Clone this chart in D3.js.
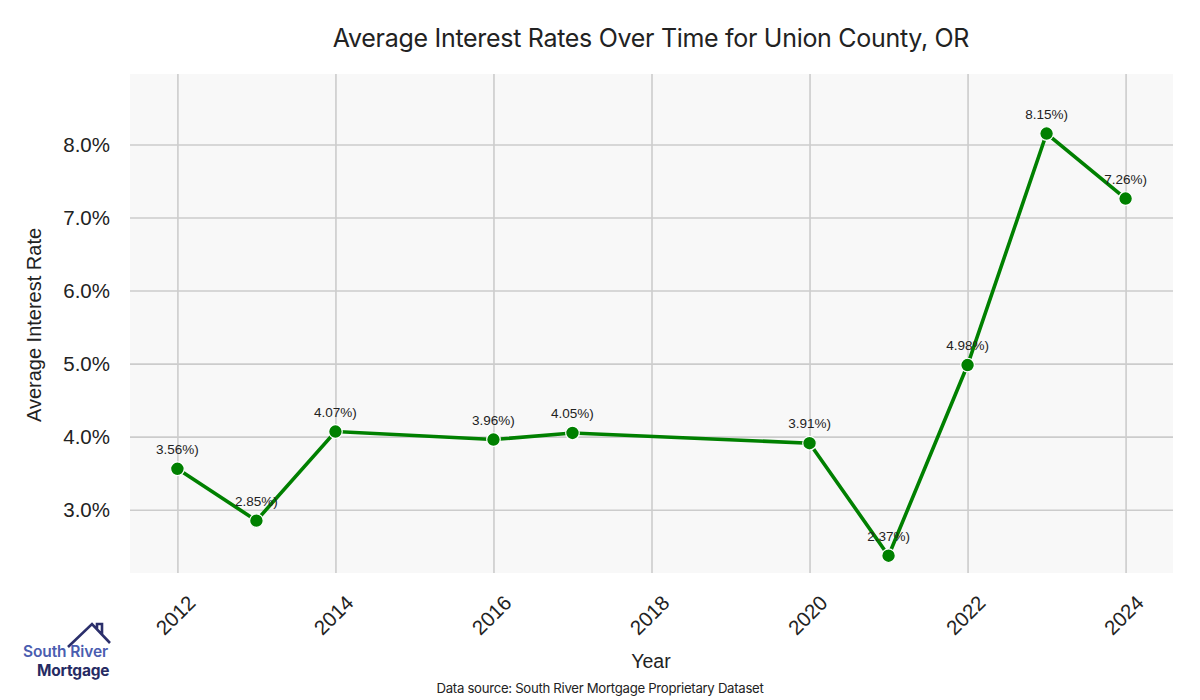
<!DOCTYPE html>
<html><head><meta charset="utf-8">
<script src="https://cdn.jsdelivr.net/npm/d3@7"></script>
<style>body{margin:0;background:#fff}</style>
</head><body>
<svg id="c" width="1200" height="700"></svg>
<script>
const years = [2012, 2013, 2014, 2016, 2017, 2020, 2021, 2022, 2023, 2024];
const rates = [3.56, 2.85, 4.07, 3.96, 4.05, 3.91, 2.37, 4.98, 8.15, 7.26];
const xTicks = [2012, 2014, 2016, 2018, 2020, 2022, 2024];
const yTicks = [3, 4, 5, 6, 7, 8];
const title = "Average Interest Rates Over Time for Union County, OR";

const svg = d3.select("#c");
const L = 130, R = 1173, T = 74, B = 573;
const x = d3.scaleLinear().domain([2011.4, 2024.6]).range([L, R]);
const y = d3.scaleLinear().domain([d3.min(rates) * 0.9, d3.max(rates) * 1.1]).range([B, T]);

svg.append("rect").attr("x", L).attr("y", T).attr("width", R - L).attr("height", B - T).attr("fill", "#f8f8f8");

// grid
const gx = svg.append("g").attr("transform", `translate(0,${B})`)
  .call(d3.axisBottom(x).tickValues(xTicks).tickSize(-(B - T)).tickFormat(""));
const gy = svg.append("g").attr("transform", `translate(${L},0)`)
  .call(d3.axisLeft(y).tickValues(yTicks).tickSize(-(R - L)).tickFormat(""));
[gx, gy].forEach(g => {
  g.select(".domain").remove();
  g.selectAll(".tick line").attr("stroke", "#cccccc").attr("stroke-width", 1.6);
});

// tick labels
svg.append("g").selectAll("text").data(yTicks).join("text")
  .attr("x", 110).attr("y", d => y(d)).attr("dy", "0.36em")
  .attr("text-anchor", "end").attr("font-family", "Liberation Sans, Arial, sans-serif")
  .attr("font-size", 20.5).attr("fill", "#222").text(d => d.toFixed(1) + "%");
svg.append("g").selectAll("text").data(xTicks).join("text")
  .attr("transform", d => `translate(${x(d) - 2},${B + 42}) rotate(-45)`)
  .attr("text-anchor", "middle").attr("dy", "0.36em")
  .attr("font-family", "Liberation Sans, Arial, sans-serif")
  .attr("font-size", 20.5).attr("fill", "#222").text(d => d);

// line
const pts = years.map((yr, i) => ({yr, v: rates[i]}));
svg.append("path").datum(pts)
  .attr("d", d3.line().x(d => x(d.yr)).y(d => y(d.v)))
  .attr("fill", "none").attr("stroke", "#008000").attr("stroke-width", 3.6);
svg.append("g").selectAll("circle").data(pts).join("circle")
  .attr("cx", d => x(d.yr)).attr("cy", d => y(d.v)).attr("r", 6.8)
  .attr("fill", "#008000").attr("stroke", "#fff").attr("stroke-width", 1.2);
svg.append("g").selectAll("text").data(pts).join("text")
  .attr("x", d => x(d.yr)).attr("y", d => y(d.v) - 15)
  .attr("text-anchor", "middle").attr("font-family", "Liberation Sans, Arial, sans-serif")
  .attr("font-size", 13.5).attr("fill", "#222").text(d => d.v.toFixed(2) + "%)");

// titles
svg.append("text").attr("x", 651).attr("y", 47).attr("text-anchor", "middle")
  .attr("font-family", "Inter, sans-serif").attr("font-size", 25).attr("letter-spacing", -0.3)
  .attr("fill", "#222").text(title);
svg.append("text").attr("transform", "translate(41,325) rotate(-90)").attr("text-anchor", "middle")
  .attr("font-family", "Liberation Sans, Arial, sans-serif").attr("font-size", 20).attr("fill", "#222")
  .text("Average Interest Rate");
svg.append("text").attr("x", 651).attr("y", 668).attr("text-anchor", "middle")
  .attr("font-family", "Liberation Sans, Arial, sans-serif").attr("font-size", 19.5).attr("fill", "#222").text("Year");
svg.append("text").attr("x", 600).attr("y", 693).attr("text-anchor", "middle")
  .attr("font-family", "Inter, sans-serif").attr("font-size", 13.2).attr("fill", "#222").attr("letter-spacing", -0.3)
  .text("Data source: South River Mortgage Proprietary Dataset");

// logo
const lg = svg.append("g");
lg.append("path").attr("d", "M68,647 L92,624 L110,643 M97,629 L97,624 L102,624 L102,634")
  .attr("fill", "none").attr("stroke", "#2b2f6b").attr("stroke-width", 2.6).attr("stroke-linejoin", "miter");
lg.append("text").attr("x", 23).attr("y", 657).attr("font-family", "Inter, sans-serif")
  .attr("font-weight", 600).attr("font-size", 15.5).attr("fill", "#4a5db0").attr("letter-spacing", -0.1).text("South River");
lg.append("text").attr("x", 37).attr("y", 676).attr("font-family", "Inter, sans-serif")
  .attr("font-weight", 700).attr("font-size", 15.5).attr("fill", "#262b63").attr("letter-spacing", -0.2).text("Mortgage");
</script>
</body></html>
